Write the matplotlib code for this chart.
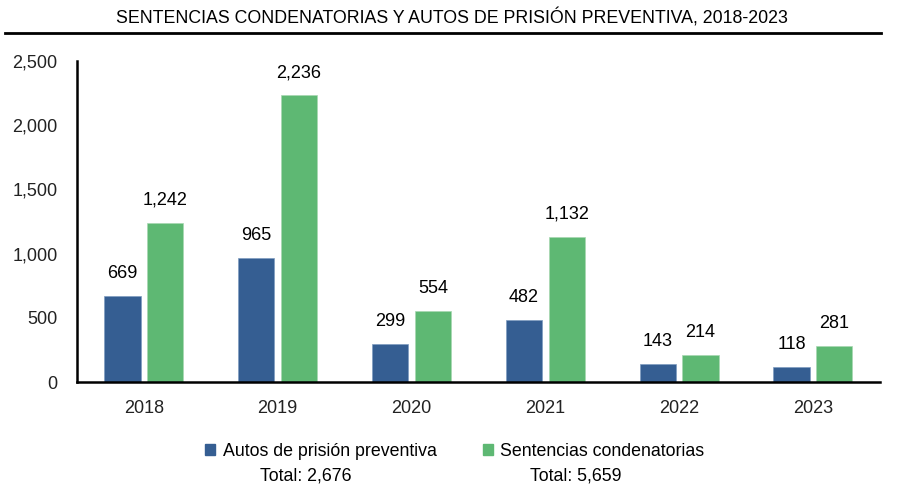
import numpy as np
import matplotlib.pyplot as plt
from matplotlib.patches import Patch
from matplotlib.lines import Line2D

# Data
years = ['2018', '2019', '2020', '2021', '2022', '2023']
autos = [669, 965, 299, 482, 143, 118]
sentencias = [1242, 2236, 554, 1132, 214, 281]
labels = ['Autos de prisión preventiva', 'Sentencias condenatorias']
totals = ['Total: 2,676', 'Total: 5,659']

blue = '#355E92'
green = '#5EB873'
plt.rcParams['font.family'] = ['Liberation Sans', 'DejaVu Sans']

fig = plt.figure(figsize=(9.04, 4.87), dpi=100)
ax = fig.add_axes([0.0852, 0.2156, 0.888, 0.659])

x = np.arange(len(years))
w = 0.27
gap = 0.025
b1 = ax.bar(x - w / 2 - gap, autos, w, color=blue, edgecolor='#7f9cc0', linewidth=0.5)
b2 = ax.bar(x + w / 2 + gap, sentencias, w, color=green, edgecolor='#a8d8b2', linewidth=0.5)
ax.bar_label(b1, labels=[f'{v:,}' for v in autos], padding=10, fontsize=13)
ax.bar_label(b2, labels=[f'{v:,}' for v in sentencias], padding=10, fontsize=13)

ax.set_xlim(-0.5, len(years) - 0.5)
ax.set_ylim(0, 2500)
ax.set_yticks(range(0, 2501, 500))
ax.set_yticklabels([f'{v:,}' for v in range(0, 2501, 500)])
ax.set_xticks(x)
ax.set_xticklabels(years)
ax.tick_params(axis='both', length=0, labelsize=13, colors='#222222')
ax.tick_params(axis='y', pad=14)
ax.tick_params(axis='x', pad=13)
for s in ['top', 'right']:
    ax.spines[s].set_visible(False)
for s in ['left', 'bottom']:
    ax.spines[s].set_linewidth(1.8)

# Title with underline
fig.text(0.5, 0.964, 'SENTENCIAS CONDENATORIAS Y AUTOS DE PRISIÓN PREVENTIVA, 2018-2023',
         ha='center', va='center', fontsize=12.8)
fig.add_artist(Line2D([0.006, 0.975], [0.933, 0.933], color='black', lw=2))

# Legend
handles = [Patch(color=blue), Patch(color=green)]
fig.legend(handles, labels, loc='center', bbox_to_anchor=(0.503, 0.073), ncol=2,
           frameon=False, fontsize=12.8, handlelength=0.6, handleheight=0.6,
           handletextpad=0.4, columnspacing=2.6)
fig.text(0.338, 0.022, totals[0], ha='center', va='center', fontsize=12.8)
fig.text(0.637, 0.022, totals[1], ha='center', va='center', fontsize=12.8)

plt.savefig('out.png', dpi=100)
